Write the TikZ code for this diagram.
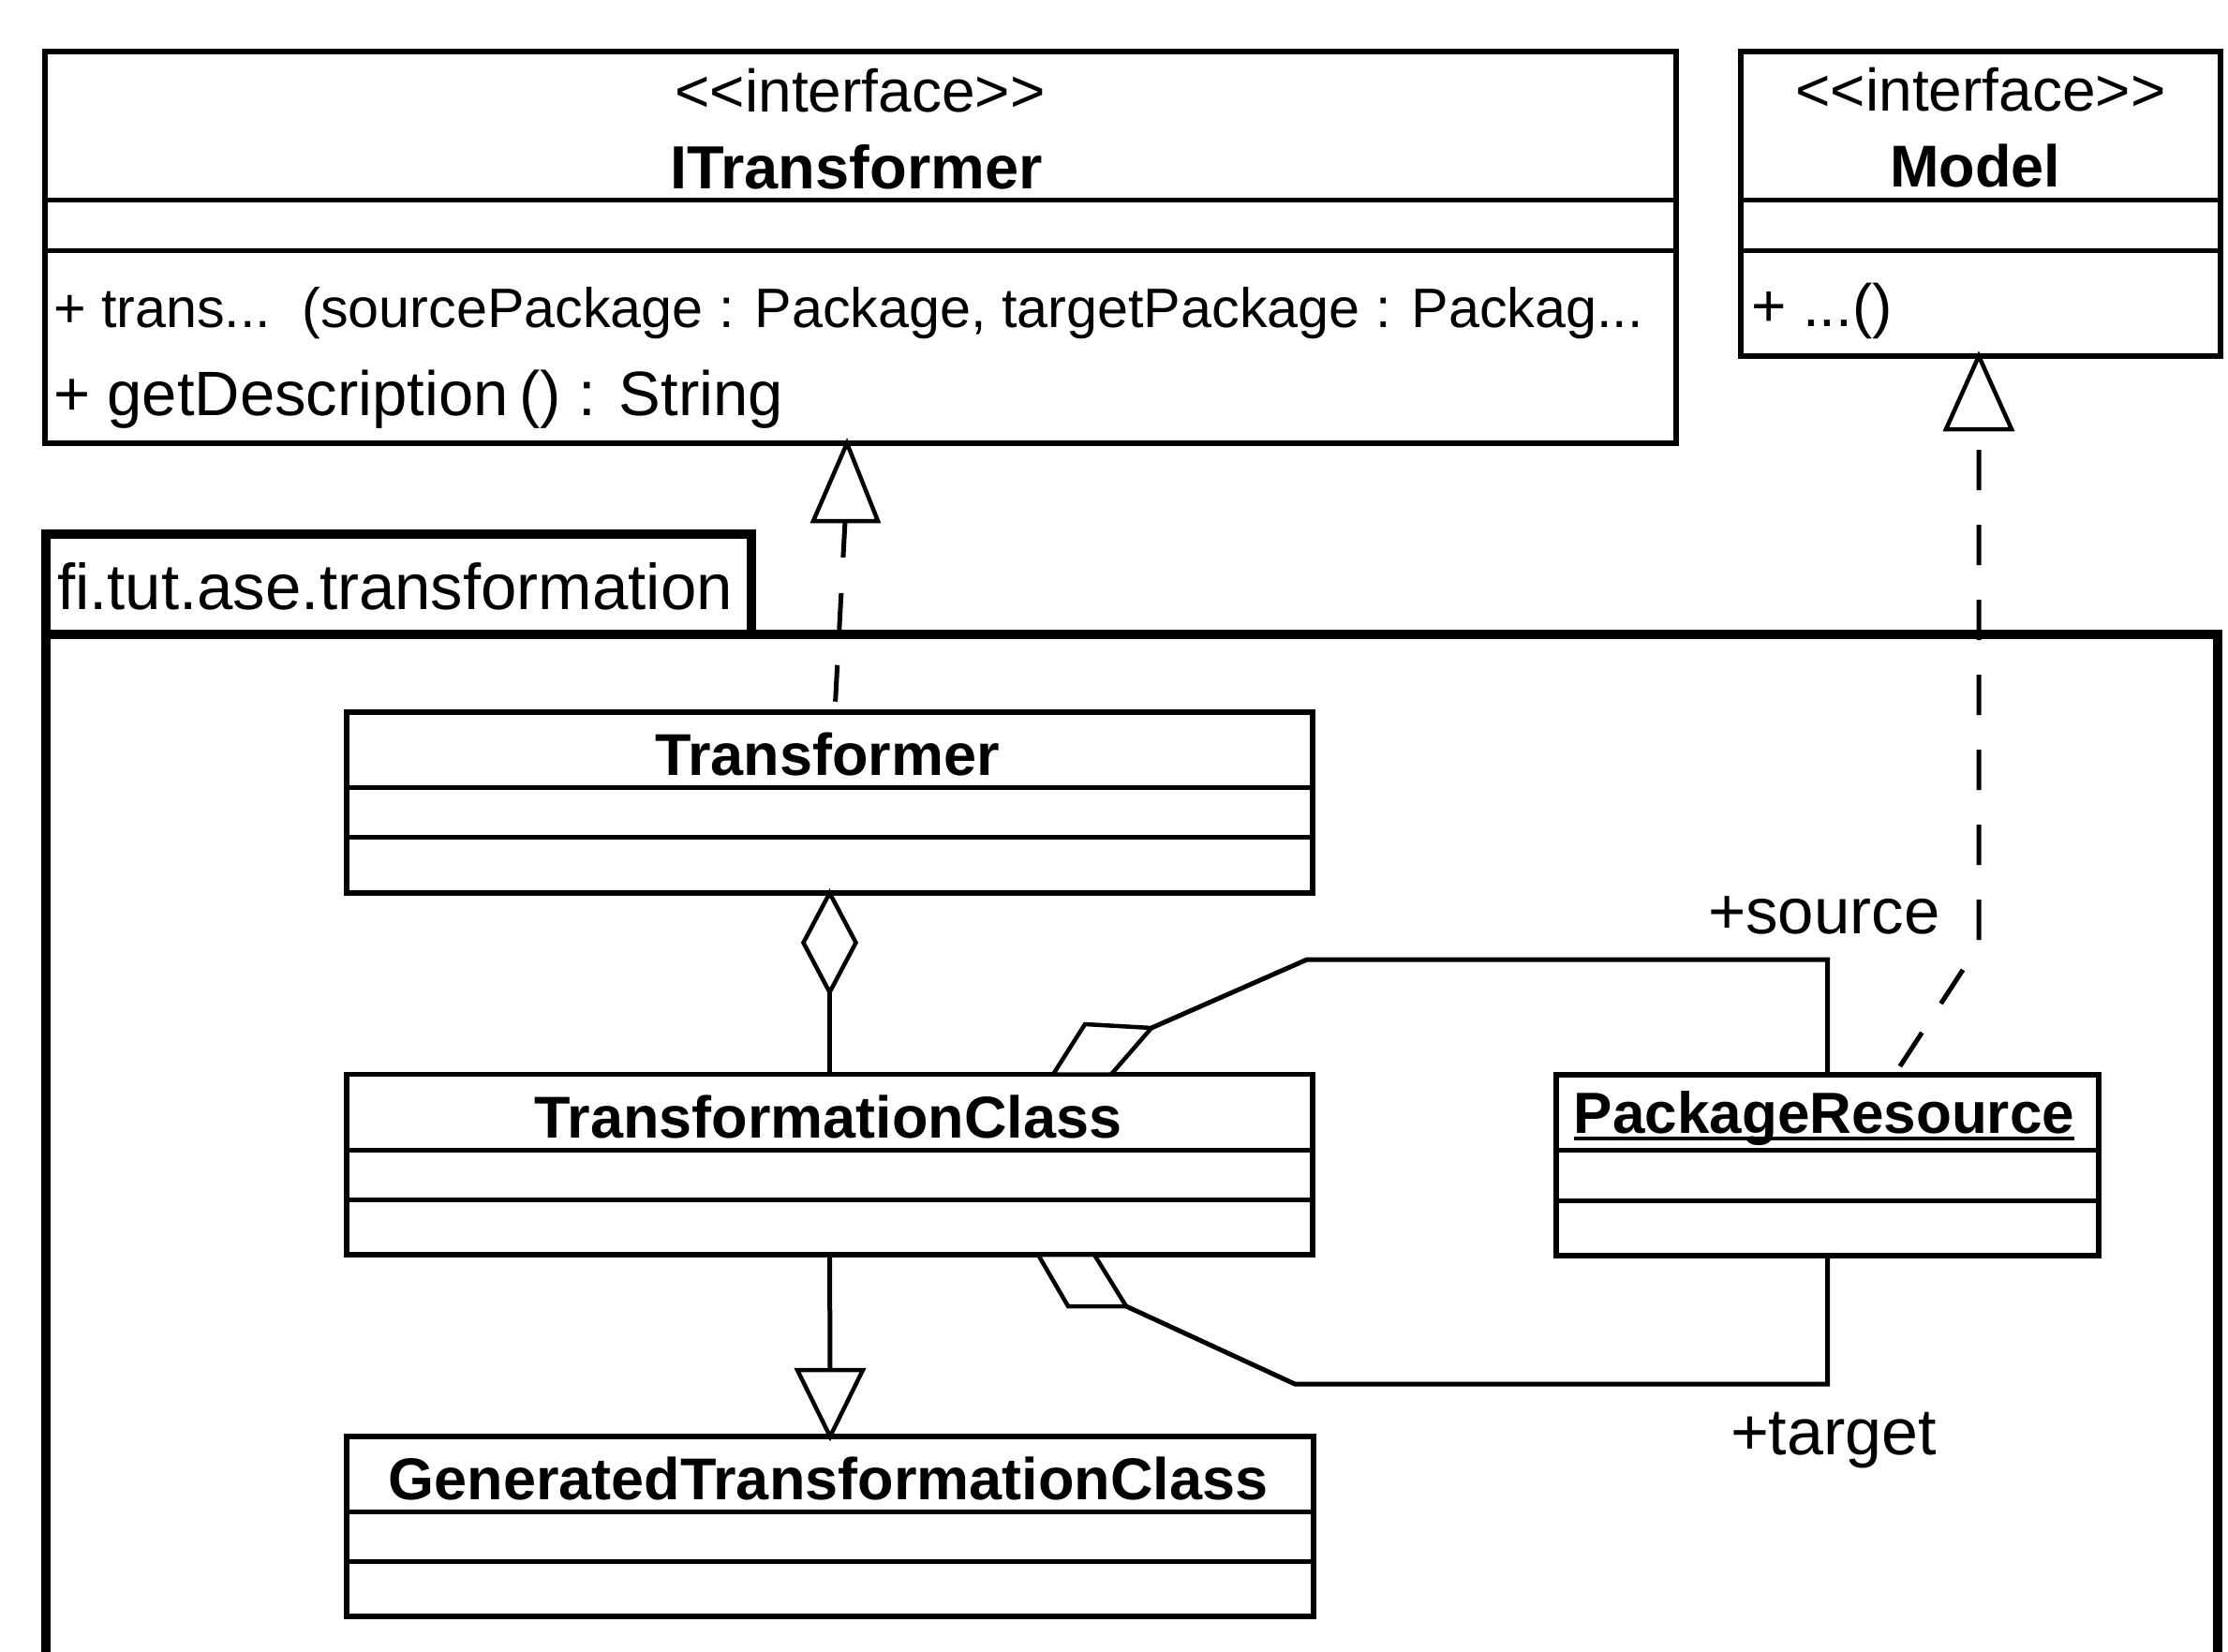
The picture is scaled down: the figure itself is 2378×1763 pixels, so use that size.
\documentclass[tikz,border=0pt]{standalone}
\usepackage{fontspec}
\setmainfont{Liberation Sans}
\usetikzlibrary{calc}
\newcommand\fsz[1]{\fontsize{#1}{#1}\selectfont}
\begin{document}
\begin{tikzpicture}[x=1pt,y=-1pt,
  box/.style={draw, line width=5.5pt, inner sep=0pt, outer sep=0pt, fill=white},
  sepline/.style={line width=5pt},
  pkgline/.style={line width=10.5pt, line join=miter},
  conn/.style={line width=5pt},
  dashA/.style={line width=5pt, dash pattern=on 39pt off 38pt},
  dashB/.style={line width=5pt, dash pattern=on 43pt off 37pt, dash phase=58pt},
  head/.style={draw, fill=white, line width=4.5pt, line join=miter},
  lbl/.style={inner sep=0pt, outer sep=0pt},
  cname/.style={lbl, anchor=base, font=\fsz{63}\bfseries},
  stereo/.style={lbl, anchor=base, font=\fsz{64}},
  member/.style={lbl, anchor=base west}]
\useasboundingbox (0,0) rectangle (2378,1763);
\clip (0,0) rectangle (2378,1763);
\fill[white] (0,0) rectangle (2378,1763);

% package
\draw[pkgline] (49,677) -- (49,570) -- (802,570) -- (802,677);
\draw[pkgline] (49,1820) -- (49,677) -- (2367,677) -- (2367,1820);
\node[lbl, anchor=base west, font=\fsz{69}] (pkgname) at (61,650) {fi.tut.ase.transformation};

% ITransformer
\node[box, minimum width=1741pt, minimum height=418pt] (itr) at (918.5,264) {};
\draw[sepline] (48,214) -- (1789,214);
\draw[sepline] (48,267.5) -- (1789,267.5);
\node[stereo] (itrst) at (918,120) {{<}{<}interface{>}{>}};
\node[cname, font=\fsz{65}\bfseries] (itrname) at (914,202) {ITransformer};
\node[member, font=\fsz{59.3}] (itrop1) at (57,349) {+ trans...~~(sourcePackage : Package, targetPackage : Packag...};
\node[member, font=\fsz{67}] (itrop2) at (57,443) {+ getDescription\,() : String};

% Model
\node[box, minimum width=512pt, minimum height=325pt] (mdl) at (2114,217.5) {};
\draw[sepline] (1858,214) -- (2370,214);
\draw[sepline] (1858,267.5) -- (2370,267.5);
\node[stereo] (mdlst) at (2114,119) {{<}{<}interface{>}{>}};
\node[cname] (mdlname) at (2108,200) {Model};
\node[member, font=\fsz{64}] (mdlop) at (1869,348) {+ ...()};

% Transformer
\node[box, minimum width=1031pt, minimum height=193pt] (trn) at (885.5,856.5) {};
\draw[sepline] (370,840.5) -- (1401,840.5);
\draw[sepline] (370,893.5) -- (1401,893.5);
\node[cname] (trnname) at (883,827) {Transformer};

% TransformationClass
\node[box, minimum width=1031pt, minimum height=192.5pt] (tc) at (885.5,1242.75) {};
\draw[sepline] (370,1227) -- (1401,1227);
\draw[sepline] (370,1280.5) -- (1401,1280.5);
\node[cname] (tcname) at (884,1214) {TransformationClass};

% GeneratedTransformationClass
\node[box, minimum width=1032pt, minimum height=192pt] (gen) at (886,1629) {};
\draw[sepline] (370,1613) -- (1402,1613);
\draw[sepline] (370,1666) -- (1402,1666);
\node[cname] (genname) at (884,1600) {GeneratedTransformationClass};

% PackageResource
\node[box, minimum width=579pt, minimum height=193pt] (pr) at (1950.5,1243.5) {};
\draw[sepline] (1661,1227) -- (2240,1227);
\draw[sepline] (1661,1281) -- (2240,1281);
\node[cname, font=\fsz{62}\bfseries] (prname) at (1947,1209) {PackageResource};
\draw[line width=4pt] ($(prname.base west)+(0,6)$) -- ($(prname.base east)+(0,6)$);

% realization Transformer -> ITransformer
\coordinate (rA) at (904,473);
\coordinate (rB) at (902,556);
\draw[dashA] (rB) -- ($(trn.north)+(5.5,0)$);
\draw[head] (rA) -- (937,556) -- (868,556) -- cycle;

% realization PackageResource -> Model
\coordinate (mA) at (2112,380);
\coordinate (mB) at (2112,458);
\coordinate (mBend) at (2112,1009);
\draw[dashB] (mB) -- (mBend) -- ($(pr.north)+(71.5,0)$);
\draw[head] (mA) -- (2147,458) -- (2077,458) -- cycle;

% aggregation Transformer <>- TransformationClass
\coordinate (aggB) at (885.5,1059);
\draw[conn] (aggB) -- (tc.north);
\draw[head] (trn.south) -- (913.5,1006) -- (aggB) -- (857.5,1006) -- cycle;

% generalization TransformationClass -> GeneratedTransformationClass
\coordinate (gB) at (886,1462);
\draw[conn] (tc.south) -- (gB);
\draw[head] (gen.north) -- (921,1462) -- (851,1462) -- cycle;

% source association
\coordinate (sK) at (1395,1024);
\coordinate (sD) at (1229,1097);
\draw[conn] (pr.north) |- (sK) -- (sD);
\draw[head] (sD) -- (1158,1093) -- (1124,1146.5) -- (1186,1146.5) -- cycle;
\node[member, font=\fsz{69}] (srclbl) at (1823,996) {+source};

% target association
\coordinate (tK) at (1382,1477);
\coordinate (tD) at (1202,1394);
\draw[conn] (pr.south) |- (tK) -- (tD);
\draw[head] (tD) -- (1140,1394) -- (1108,1339) -- (1168,1339) -- cycle;
\node[member, font=\fsz{70}] (tgtlbl) at (1847,1552) {+target};
\end{tikzpicture}
\end{document}
